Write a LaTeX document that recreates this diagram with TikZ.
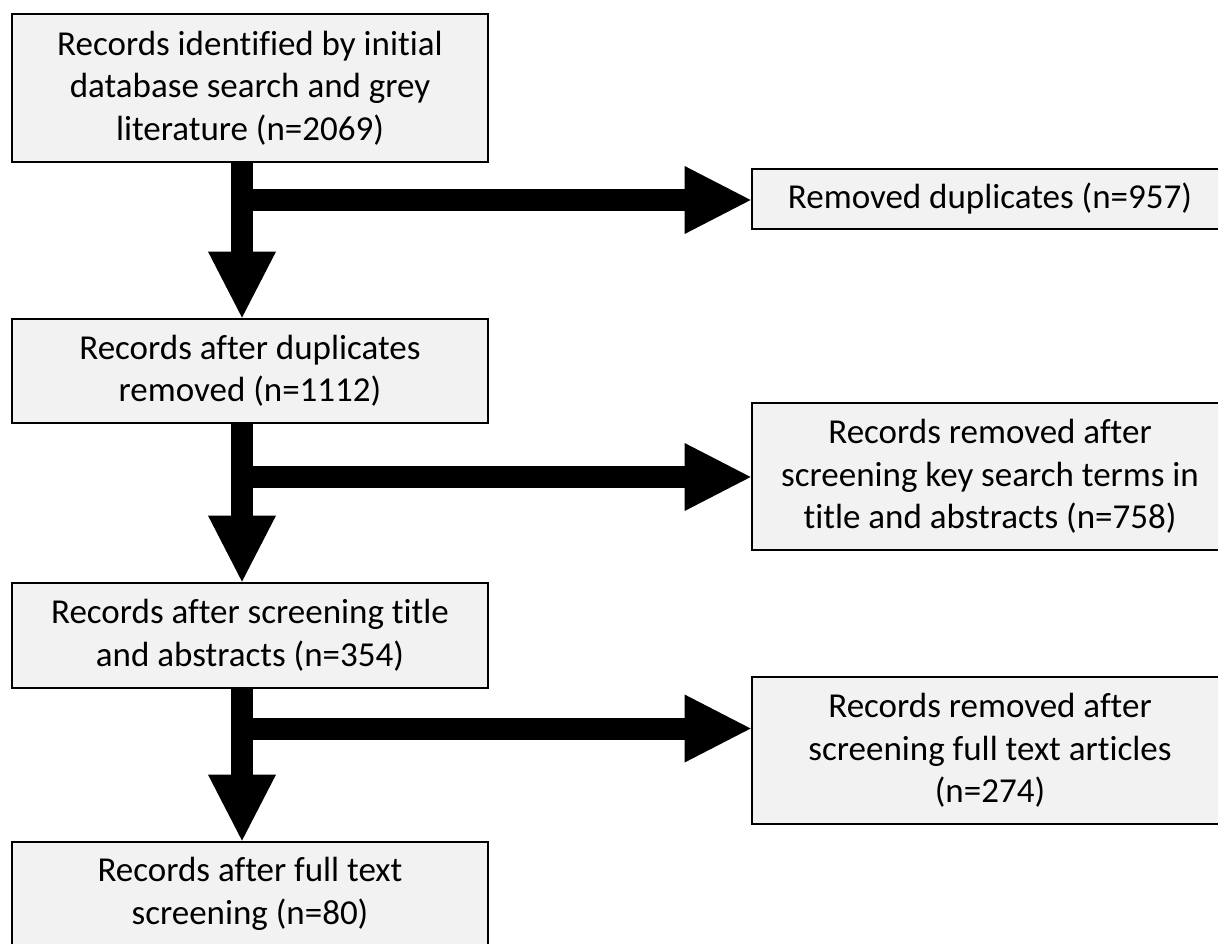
\documentclass[tikz,border=0pt]{standalone}
\usepackage{fontspec}
\setmainfont{Carlito}[Ligatures={NoCommon,NoContextual}]
\usetikzlibrary{arrows.meta}
\definecolor{boxgray}{RGB}{242,242,242}
\begin{document}
\begin{tikzpicture}[x=1pt,y=-1pt,
  box/.style={draw=black, line width=2.8pt, fill=boxgray, minimum width=476pt,
    inner sep=0pt, align=center, font=\fontsize{35}{42.5}\selectfont},
  flow/.style={line width=22pt,
    -{Triangle[length=66pt 0 0,width=68pt 0 0,line width=0pt 0 0]}}]
\useasboundingbox (0,0) rectangle (1218,943);
\clip (0,0) rectangle (1218,943);
\node[box, minimum height=148pt] (b1) at (250,88) {Records identified by initial\\database search and grey\\literature (n=2069)};
\node[box, minimum height=104pt] (b2) at (250,371) {Records after duplicates\\removed (n=1112)};
\node[box, minimum height=105pt] (b3) at (250,635.5) {Records after screening title\\and abstracts (n=354)};
\node[box, minimum height=104pt] (b4) at (250,894) {Records after full text\\screening (n=80)};
\node[box, minimum height=60pt] (r1) at (990,199) {Removed duplicates (n=957)};
\node[box, minimum height=147pt] (r2) at (990,476.5) {Records removed after\\screening key search terms in\\title and abstracts (n=758)};
\node[box, minimum height=147pt] (r3) at (990,750.5) {Records removed after\\screening full text articles\\(n=274)};
\coordinate (j1) at (242,200);
\coordinate (j2) at (242,477);
\coordinate (j3) at (242,728.5);
\draw[flow] (b1.south -| j1) -- (b2.north -| j1);
\draw[flow] (b2.south -| j2) -- (b3.north -| j2);
\draw[flow] (b3.south -| j3) -- (b4.north -| j3);
\draw[flow] (j1) -- (j1 -| r1.west);
\draw[flow] (j2) -- (j2 -| r2.west);
\draw[flow] (j3) -- (j3 -| r3.west);
\end{tikzpicture}
\end{document}
